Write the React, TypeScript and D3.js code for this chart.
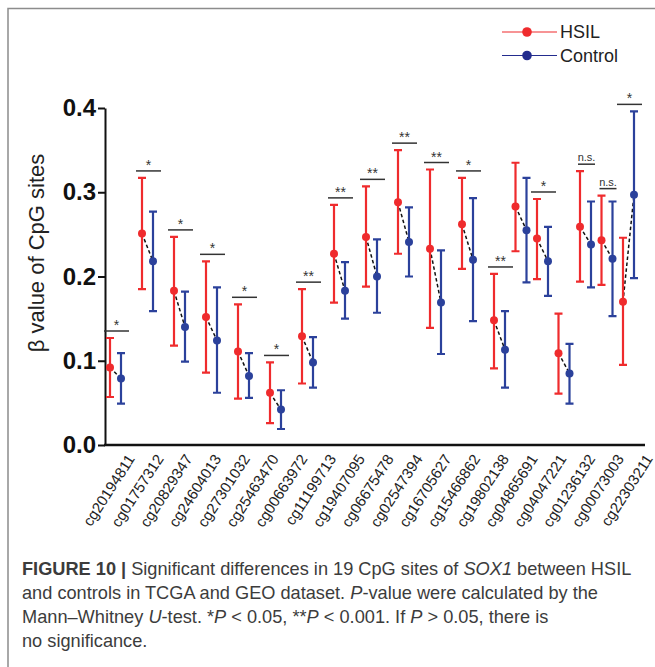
import React, { useEffect, useRef } from 'react';
import * as d3 from 'd3';

// CpG sites, in plot order
const sites = [
    'cg20194811', 'cg01757312', 'cg20829347', 'cg24604013', 'cg27301032',
    'cg25463470', 'cg00663972', 'cg11199713', 'cg19407095', 'cg06675478',
    'cg02547394', 'cg16705627', 'cg15466862', 'cg19802138', 'cg04865691',
    'cg04047221', 'cg01236132', 'cg00073003', 'cg22303211',
];

// HSIL: mean and error bar ends (beta value)
const hsilMean = [0.092, 0.251, 0.183, 0.152, 0.111, 0.062, 0.129, 0.227, 0.247, 0.288, 0.233, 0.262, 0.148, 0.283, 0.245, 0.109, 0.259, 0.243, 0.170];
const hsilHigh = [0.127, 0.317, 0.247, 0.218, 0.167, 0.098, 0.185, 0.285, 0.307, 0.350, 0.327, 0.317, 0.203, 0.335, 0.292, 0.156, 0.325, 0.296, 0.246];
const hsilLow = [0.057, 0.185, 0.118, 0.086, 0.055, 0.026, 0.073, 0.169, 0.188, 0.227, 0.139, 0.209, 0.091, 0.230, 0.197, 0.061, 0.194, 0.190, 0.095];

// Control: mean and error bar ends
const ctrlMean = [0.079, 0.218, 0.140, 0.124, 0.082, 0.042, 0.098, 0.183, 0.200, 0.241, 0.169, 0.220, 0.113, 0.255, 0.218, 0.085, 0.238, 0.221, 0.297];
const ctrlHigh = [0.109, 0.277, 0.182, 0.187, 0.109, 0.065, 0.128, 0.217, 0.244, 0.282, 0.231, 0.293, 0.159, 0.317, 0.259, 0.120, 0.289, 0.289, 0.396];
const ctrlLow = [0.049, 0.159, 0.099, 0.062, 0.056, 0.019, 0.068, 0.150, 0.157, 0.200, 0.108, 0.147, 0.068, 0.193, 0.177, 0.049, 0.187, 0.153, 0.198];

// significance marks ('' = none drawn)
const sigMarks = ['*', '*', '*', '*', '*', '*', '**', '**', '**', '**', '**', '*', '**', '', '*', '', 'n.s.', 'n.s.', '*'];

const yTicks = [0, 0.1, 0.2, 0.3, 0.4];

const RED = '#ef2b2d';
const BLUE = '#2b419b';
const FONT = 'Liberation Sans, Arial, sans-serif';

export default function App() {
    const ref = useRef<SVGGElement>(null);

    useEffect(() => {
        const svg = d3.select(ref.current);
        svg.selectAll('*').remove();

        const y = d3.scaleLinear().domain([0, 0.4]).range([445, 108]);
        // the pairs are packed tighter after the 13th site
        const x = d3.scaleLinear().domain([0, 12, 18]).range([110, 494, 623]);
        const pairGap = 11;
        const xl = d3.scalePoint<string>().domain(sites).range([128, 646]);

        // figure frame
        svg.append('path')
            .attr('d', 'M8,667V8.5H655')
            .attr('fill', 'none')
            .attr('stroke', '#8c8c8c')
            .attr('stroke-width', 1.5);

        // y axis
        const yAxis = svg.append('g')
            .attr('transform', 'translate(105,0)')
            .call(d3.axisLeft(y).tickValues(yTicks).tickFormat(d3.format('.1f')).tickSize(7).tickSizeOuter(0));
        yAxis.select('.domain').attr('stroke', '#111').attr('stroke-width', 2);
        yAxis.selectAll('.tick line').attr('stroke', '#111').attr('stroke-width', 2);
        yAxis.selectAll('.tick text')
            .attr('font-family', FONT)
            .attr('font-size', 24)
            .attr('font-weight', 'bold')
            .attr('fill', '#111')
            .attr('x', -9);

        svg.append('text')
            .attr('transform', 'translate(44,253) rotate(-90)')
            .attr('text-anchor', 'middle')
            .attr('font-family', FONT)
            .attr('font-size', 22)
            .attr('fill', '#222')
            .text('β value of CpG sites');

        // x axis line
        svg.append('line')
            .attr('x1', 104).attr('x2', 645)
            .attr('y1', y(0)).attr('y2', y(0))
            .attr('stroke', '#111')
            .attr('stroke-width', 2.5);

        // x labels
        svg.append('g').selectAll('text')
            .data(sites)
            .enter().append('text')
            .attr('transform', (d) => `translate(${xl(d)! + 3},${456}) rotate(-57)`)
            .attr('text-anchor', 'end')
            .attr('dy', '0.35em')
            .attr('font-family', FONT)
            .attr('font-size', 15)
            .attr('fill', '#222')
            .text((d) => d);

        const idx = d3.range(sites.length);

        // dashed link between the means
        svg.append('g').selectAll('line')
            .data(idx)
            .enter().append('line')
            .attr('x1', (i) => x(i)).attr('y1', (i) => y(hsilMean[i]))
            .attr('x2', (i) => x(i) + pairGap).attr('y2', (i) => y(ctrlMean[i]))
            .attr('stroke', '#111')
            .attr('stroke-width', 1.5)
            .attr('stroke-dasharray', '3.5,2.5');

        const groups = [
            { mean: hsilMean, low: hsilLow, high: hsilHigh, color: RED, dx: 0 },
            { mean: ctrlMean, low: ctrlLow, high: ctrlHigh, color: BLUE, dx: pairGap },
        ];

        groups.forEach((grp) => {
            const g = svg.append('g');
            const cx = (i: number) => x(i) + grp.dx;
            g.selectAll('.whisker')
                .data(idx)
                .enter().append('path')
                .attr('class', 'whisker')
                .attr('fill', 'none')
                .attr('stroke', grp.color)
                .attr('stroke-width', 2.2)
                .attr('d', (i) => {
                    const c = cx(i), t = y(grp.high[i]), b = y(grp.low[i]);
                    return `M${c - 4},${t}H${c + 4}M${c},${t}V${b}M${c - 4},${b}H${c + 4}`;
                });
            g.selectAll('circle')
                .data(idx)
                .enter().append('circle')
                .attr('cx', cx)
                .attr('cy', (i) => y(grp.mean[i]))
                .attr('r', 4)
                .attr('fill', grp.color);
        });

        // significance bars
        const sig = svg.append('g').selectAll('g')
            .data(idx.filter((i) => sigMarks[i] !== ''))
            .enter().append('g')
            .attr('transform', (i) => {
                const top = Math.max(hsilHigh[i], ctrlHigh[i]);
                return `translate(${x(i) + pairGap / 2 + 1},${y(top) - 7})`;
            });
        sig.append('line')
            .attr('x1', (i) => (sigMarks[i] === 'n.s.' ? -8.5 : -12.5))
            .attr('x2', (i) => (sigMarks[i] === 'n.s.' ? 8.5 : 12.5))
            .attr('stroke', '#333')
            .attr('stroke-width', 1.5);
        sig.append('text')
            .attr('text-anchor', 'middle')
            .attr('y', (i) => (sigMarks[i] === 'n.s.' ? -3 : -1))
            .attr('font-family', FONT)
            .attr('font-size', (i) => (sigMarks[i] === 'n.s.' ? 11 : 14))
            .attr('fill', '#333')
            .text((i) => sigMarks[i]);

        // legend
        const legend = svg.append('g').selectAll('g')
            .data([{ name: 'HSIL', color: RED }, { name: 'Control', color: '#232c8e' }])
            .enter().append('g')
            .attr('transform', (d, i) => `translate(0,${32 + i * 23.5})`);
        legend.append('line')
            .attr('x1', 502).attr('x2', 557)
            .attr('stroke', (d) => d.color)
            .attr('stroke-width', 1.2);
        legend.append('circle')
            .attr('cx', 527).attr('r', 4.8)
            .attr('fill', (d) => d.color);
        legend.append('text')
            .attr('x', 560)
            .attr('dy', '0.36em')
            .attr('font-family', FONT)
            .attr('font-size', 18)
            .attr('fill', '#222')
            .text((d) => d.name);
    }, []);

    const cap = { fontFamily: FONT, fontSize: 18.2, fill: '#3c3c3c' } as const;

    return (
        <svg width={655} height={667}
            style={{ position: 'absolute', left: 0, top: 0, background: '#fff' }}>
            <g ref={ref} />
            <text x={22} y={575} {...cap}>
                <tspan fontWeight="bold">FIGURE 10 |</tspan> Significant differences in 19 CpG sites of <tspan fontStyle="italic">SOX1</tspan> between HSIL
            </text>
            <text x={22} y={599} {...cap}>
                and controls in TCGA and GEO dataset. <tspan fontStyle="italic">P</tspan>-value were calculated by the
            </text>
            <text x={22} y={623} {...cap}>
                Mann–Whitney <tspan fontStyle="italic">U</tspan>-test. *<tspan fontStyle="italic">P</tspan> &lt; 0.05, **<tspan fontStyle="italic">P</tspan> &lt; 0.001. If <tspan fontStyle="italic">P</tspan> &gt; 0.05, there is
            </text>
            <text x={22} y={647} {...cap}>no significance.</text>
        </svg>
    );
}
